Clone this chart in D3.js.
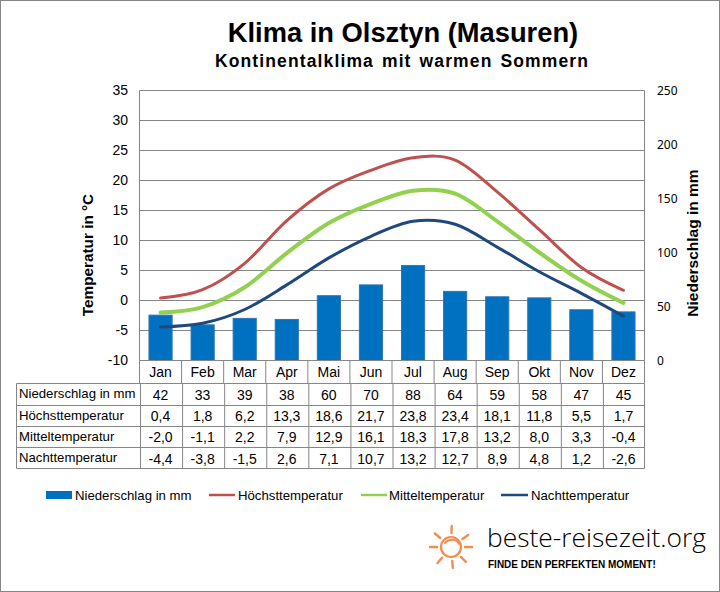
<!DOCTYPE html>
<html>
<head>
<meta charset="utf-8">
<title>Klima in Olsztyn</title>
<script src="https://cdn.jsdelivr.net/npm/d3@7/dist/d3.min.js"></script>
<style>
    html, body { margin: 0; padding: 0; background: #fff; }
    svg { display: block; }
    text { font-family: "Liberation Sans", Arial, sans-serif; fill: #000; }
</style>
</head>
<body>
<div id="chart"></div>
<script>
var months = ['Jan', 'Feb', 'Mar', 'Apr', 'Mai', 'Jun', 'Jul', 'Aug', 'Sep', 'Okt', 'Nov', 'Dez'];
var rain = [42, 33, 39, 38, 60, 70, 88, 64, 59, 58, 47, 45];
var high = [0.4, 1.8, 6.2, 13.3, 18.6, 21.7, 23.8, 23.4, 18.1, 11.8, 5.5, 1.7];
var mean = [-2.0, -1.1, 2.2, 7.9, 12.9, 16.1, 18.3, 17.8, 13.2, 8.0, 3.3, -0.4];
var night = [-4.4, -3.8, -1.5, 2.6, 7.1, 10.7, 13.2, 12.7, 8.9, 4.8, 1.2, -2.6];
var tempTicks = [-10, -5, 0, 5, 10, 15, 20, 25, 30, 35];
var rainTicks = [0, 50, 100, 150, 200, 250];
var rainName = 'Niederschlag in mm';
var highName = 'Höchsttemperatur';
var meanName = 'Mitteltemperatur';
var nightName = 'Nachttemperatur';

var width = 720, height = 592;
var grey = '#868686';
var plotLeft = 139.5, plotRight = 644.5, plotTop = 90.5, plotBottom = 360.5;

var svg = d3.select('#chart').append('svg')
    .attr('width', width)
    .attr('height', height);

svg.append('rect')
    .attr('x', 0.5).attr('y', 0.5)
    .attr('width', width - 1).attr('height', height - 1)
    .attr('fill', '#fff').attr('stroke', grey);

var x = d3.scaleBand().domain(months).range([plotLeft, plotRight]).paddingInner(0.45).paddingOuter(0.225);
var xCell = d3.scaleBand().domain(months).range([plotLeft, plotRight]);
var yTemp = d3.scaleLinear().domain([-10, 35]).range([plotBottom, plotTop]);
var yRain = d3.scaleLinear().domain([0, 250]).range([plotBottom, plotTop]);

// titles
svg.append('text')
    .attr('x', 403).attr('y', 42)
    .attr('text-anchor', 'middle')
    .style('font-size', '27.3px').style('font-weight', 'bold')
    .text('Klima in Olsztyn (Masuren)');
svg.append('text')
    .attr('x', 402).attr('y', 67)
    .attr('text-anchor', 'middle')
    .style('font-size', '17.5px').style('font-weight', 'bold')
    .style('letter-spacing', '1.13px').style('word-spacing', '2px')
    .text('Kontinentalklima mit warmen Sommern');

// gridlines
svg.append('g').selectAll('line')
    .data(tempTicks)
    .join('line')
    .attr('x1', plotLeft).attr('x2', plotRight)
    .attr('y1', function(d) { return yTemp(d); })
    .attr('y2', function(d) { return yTemp(d); })
    .attr('stroke', grey);

// bars
svg.append('g').selectAll('rect')
    .data(rain)
    .join('rect')
    .attr('x', function(d, i) { return x(months[i]); })
    .attr('width', x.bandwidth())
    .attr('y', function(d) { return yRain(d); })
    .attr('height', function(d) { return plotBottom - yRain(d); })
    .attr('fill', '#0070c0')
    .attr('stroke', '#2f75b5');

// left axis
var axisLeft = d3.axisLeft(yTemp).tickValues(tempTicks).tickSize(0).tickPadding(0).tickFormat(String);
var gLeft = svg.append('g').attr('transform', 'translate(' + 128 + ',0)').call(axisLeft);
gLeft.select('.domain').remove();
gLeft.selectAll('text').style('font-size', '14px').style('font-family', '"Liberation Sans"');

svg.append('line').attr('x1', plotLeft).attr('x2', plotLeft).attr('y1', plotTop).attr('y2', plotBottom).attr('stroke', grey);
svg.append('line').attr('x1', plotRight).attr('x2', plotRight).attr('y1', plotTop).attr('y2', plotBottom).attr('stroke', grey);

// right axis
var axisRight = d3.axisRight(yRain).tickValues(rainTicks).tickSize(0).tickPadding(0);
var gRight = svg.append('g').attr('transform', 'translate(' + 657 + ',0)').call(axisRight);
gRight.select('.domain').remove();
gRight.selectAll('text').style('font-size', '12px').style('font-family', '"Noto Sans"');

svg.append('text')
    .attr('transform', 'translate(93,255) rotate(-90)')
    .attr('text-anchor', 'middle')
    .style('font-size', '15.3px').style('font-weight', 'bold')
    .text('Temperatur in °C');
svg.append('text')
    .attr('transform', 'translate(698,243) rotate(-90)')
    .attr('text-anchor', 'middle')
    .style('font-size', '15.5px').style('font-weight', 'bold')
    .text(rainName);

// temperature lines
var series = [
    { name: highName, values: high, color: '#c0504d', w: 3 },
    { name: meanName, values: mean, color: '#92d050', w: 4 },
    { name: nightName, values: night, color: '#1f497d', w: 3 }
];
var line = d3.line()
    .x(function(d, i) { return x(months[i]) + x.bandwidth() / 2; })
    .y(function(d) { return yTemp(d); })
    .curve(d3.curveCatmullRom.alpha(0));

svg.append('g').selectAll('path')
    .data(series)
    .join('path')
    .attr('d', function(s) { return line(s.values); })
    .attr('fill', 'none')
    .attr('stroke', function(s) { return s.color; })
    .attr('stroke-width', function(s) { return s.w; })
    .attr('stroke-linecap', 'round');

// month row
var rowY = [383.5, 405.5, 426.5, 447.5, 468.5];
var monthCells = svg.append('g');
monthCells.selectAll('line')
    .data(months.slice(1))
    .join('line')
    .attr('x1', function(d) { return xCell(d); })
    .attr('x2', function(d) { return xCell(d); })
    .attr('y1', plotBottom).attr('y2', rowY[0])
    .attr('stroke', grey);
monthCells.selectAll('text')
    .data(months)
    .join('text')
    .attr('x', function(d) { return xCell(d) + xCell.bandwidth() / 2; })
    .attr('y', 377)
    .attr('text-anchor', 'middle')
    .style('font-size', '14px')
    .text(function(d) { return d; });
svg.append('line').attr('x1', plotLeft).attr('x2', plotLeft).attr('y1', plotBottom).attr('y2', rowY[0]).attr('stroke', grey);
svg.append('line').attr('x1', plotRight).attr('x2', plotRight).attr('y1', plotBottom).attr('y2', rowY[0]).attr('stroke', grey);
svg.append('line').attr('x1', plotLeft).attr('x2', plotRight).attr('y1', plotBottom).attr('y2', plotBottom).attr('stroke', grey);

// data table
var comma = function(v) { return d3.format('.1f')(v).replace('.', ',').replace('−', '-'); };
var rows = [
    { name: rainName, values: rain.map(String) },
    { name: highName, values: high.map(comma) },
    { name: meanName, values: mean.map(comma) },
    { name: nightName, values: night.map(comma) }
];
var tableLeft = 16.5, labelRight = 140.5;
var table = svg.append('g');
table.selectAll('line.row')
    .data(rowY)
    .join('line')
    .attr('class', 'row')
    .attr('x1', tableLeft).attr('x2', plotRight)
    .attr('y1', function(d) { return d; })
    .attr('y2', function(d) { return d; })
    .attr('stroke', grey);
table.selectAll('line.col')
    .data([tableLeft, labelRight].concat(months.slice(1).map(function(m) { return xCell(m) + 1; }), [plotRight]))
    .join('line')
    .attr('class', 'col')
    .attr('x1', function(d) { return d; })
    .attr('x2', function(d) { return d; })
    .attr('y1', rowY[0]).attr('y2', rowY[4])
    .attr('stroke', grey);

var labelDy = [14.5, 14, 14, 14];
var valueDy = [16.5, 15.5, 15.5, 16.5];
rows.forEach(function(r, i) {
    table.append('text')
        .attr('x', 19).attr('y', rowY[i] + labelDy[i])
        .style('font-size', '13.2px')
        .text(r.name);
    table.selectAll(null)
        .data(r.values)
        .join('text')
        .attr('x', function(d, j) { return xCell(months[j]) + xCell.bandwidth() / 2; })
        .attr('y', rowY[i] + valueDy[i])
        .attr('text-anchor', 'middle')
        .style('font-size', '14px')
        .text(function(d) { return d; });
});

// legend
var legendY = 495;
var legend = svg.append('g');
legend.append('rect')
    .attr('x', 46).attr('y', legendY - 4).attr('width', 26).attr('height', 8)
    .attr('fill', '#0070c0');
legend.append('text').attr('x', 75).attr('y', legendY + 5).style('font-size', '13.2px').text(rainName);
var legendLines = [[209, 235, 238], [361, 387, 389], [501, 528, 531]];
series.forEach(function(s, i) {
    var p = legendLines[i];
    legend.append('line')
        .attr('x1', p[0]).attr('x2', p[1])
        .attr('y1', legendY).attr('y2', legendY)
        .attr('stroke', s.color).attr('stroke-width', 2.5);
    legend.append('text').attr('x', p[2]).attr('y', legendY + 5).style('font-size', '13.2px').text(s.name);
});

// logo
var sun = svg.append('g')
    .attr('transform', 'translate(451,547)')
    .attr('fill', 'none')
    .attr('stroke', '#f58b4c')
    .attr('stroke-linecap', 'round');
sun.append('circle').attr('r', 10).attr('stroke-width', 2.2);
sun.append('path').attr('d', 'M-6,-4 C-2,-9 6,-8 8,-3').attr('stroke-width', 2);
var rays = [-88, -35, -140, 0, 180, 45, 85, 130];
sun.selectAll('line.ray')
    .data(rays)
    .join('line')
    .attr('class', 'ray')
    .attr('x1', function(a) { return 14 * Math.cos(a * Math.PI / 180); })
    .attr('y1', function(a) { return 14 * Math.sin(a * Math.PI / 180); })
    .attr('x2', function(a) { return 21 * Math.cos(a * Math.PI / 180); })
    .attr('y2', function(a) { return 21 * Math.sin(a * Math.PI / 180); })
    .attr('stroke-width', 2.4);

svg.append('text')
    .attr('x', 487).attr('y', 547)
    .style('font-family', '"Open Sans"').style('font-weight', 300).style('font-size', '26.4px')
    .attr('fill', '#222')
    .text('beste-reisezeit.org');
svg.append('text')
    .attr('x', 488).attr('y', 568)
    .style('font-size', '10px').style('font-weight', 'bold')
    .text('FINDE DEN PERFEKTEN MOMENT!');
</script>
</body>
</html>
